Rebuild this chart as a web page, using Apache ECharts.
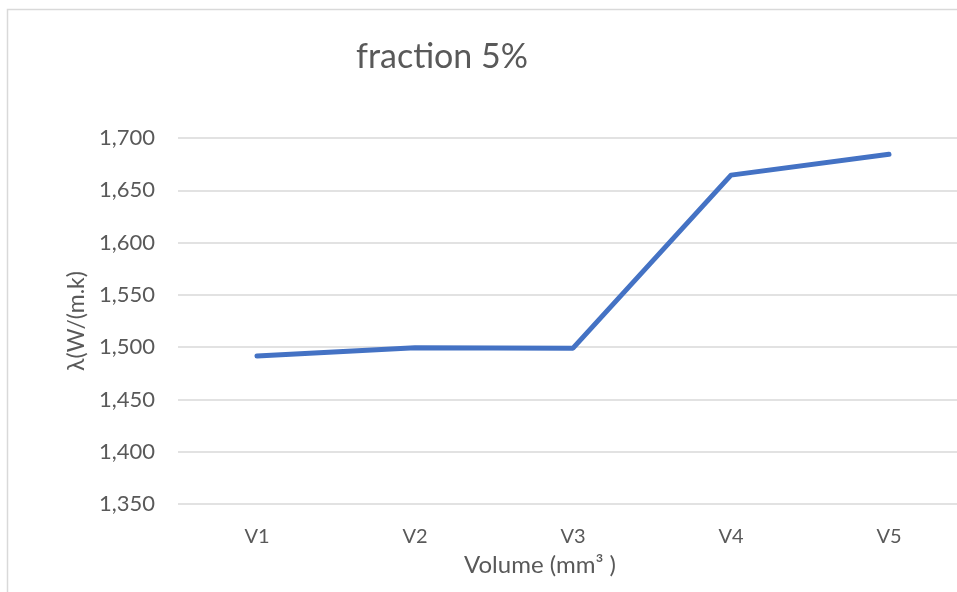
<!DOCTYPE html>
<html><head><meta charset="utf-8">
<script src="https://cdn.jsdelivr.net/npm/echarts@6/dist/echarts.min.js"></script>
<style>html,body{margin:0;padding:0;background:#fff;overflow:hidden}#c{width:970px;height:592px}</style>
</head><body><div id="c"></div>
<script>
const categories = ['V1','V2','V3','V4','V5'];
const values = [1.4915, 1.4995, 1.4990, 1.6645, 1.6845];
const yTicks = {min: 1.35, max: 1.70, interval: 0.05};
const titleText = 'fraction 5%';
const yName = 'λ(W/(m.k)';
const xName = 'Volume (mm³ )';

const FONT = 'Lato';
const chart = echarts.init(document.getElementById('c'), null, {renderer:'canvas'});
chart.setOption({
  backgroundColor: '#fff',
  animation: false,
  graphic: [{type:'rect', left:5, top:7, shape:{width:1000, height:1000}, style:{fill:'none', stroke:'#d9d9d9', lineWidth:1.5}, silent:true}],
  title: {text: titleText, left: 437, top: 35, textAlign:'center',
    textStyle:{fontFamily:FONT, fontSize:34, fontWeight:'normal', color:'#595959'}},
  grid: {left:178, width:790, top:138, height:366, containLabel:false},
  xAxis: {type:'category', data:categories, boundaryGap:true,
    axisLine:{show:false}, axisTick:{show:false},
    axisLabel:{fontFamily:FONT, fontSize:20, color:'#595959', margin:23},
    name:xName, nameLocation:'middle', nameGap:49,
    nameTextStyle:{fontFamily:FONT, fontSize:24, color:'#595959', padding:[0,66,0,0]}},
  yAxis: {type:'value', min:yTicks.min, max:yTicks.max, interval:yTicks.interval,
    axisLine:{show:false}, axisTick:{show:false},
    splitLine:{lineStyle:{color:'#d9d9d9', width:1.5}},
    axisLabel:{fontFamily:FONT, fontSize:22, color:'#595959', margin:23,
      formatter: v => v.toFixed(3).replace('.', ',')},
    name:yName, nameLocation:'middle', nameGap:84, nameRotate:90,
    nameTextStyle:{fontFamily:FONT, fontSize:23, color:'#595959'}},
  series: [{type:'line', data:values, symbol:'none',
    lineStyle:{color:'#4472C4', width:5, cap:'round', join:'round'}}]
});
</script></body></html>
